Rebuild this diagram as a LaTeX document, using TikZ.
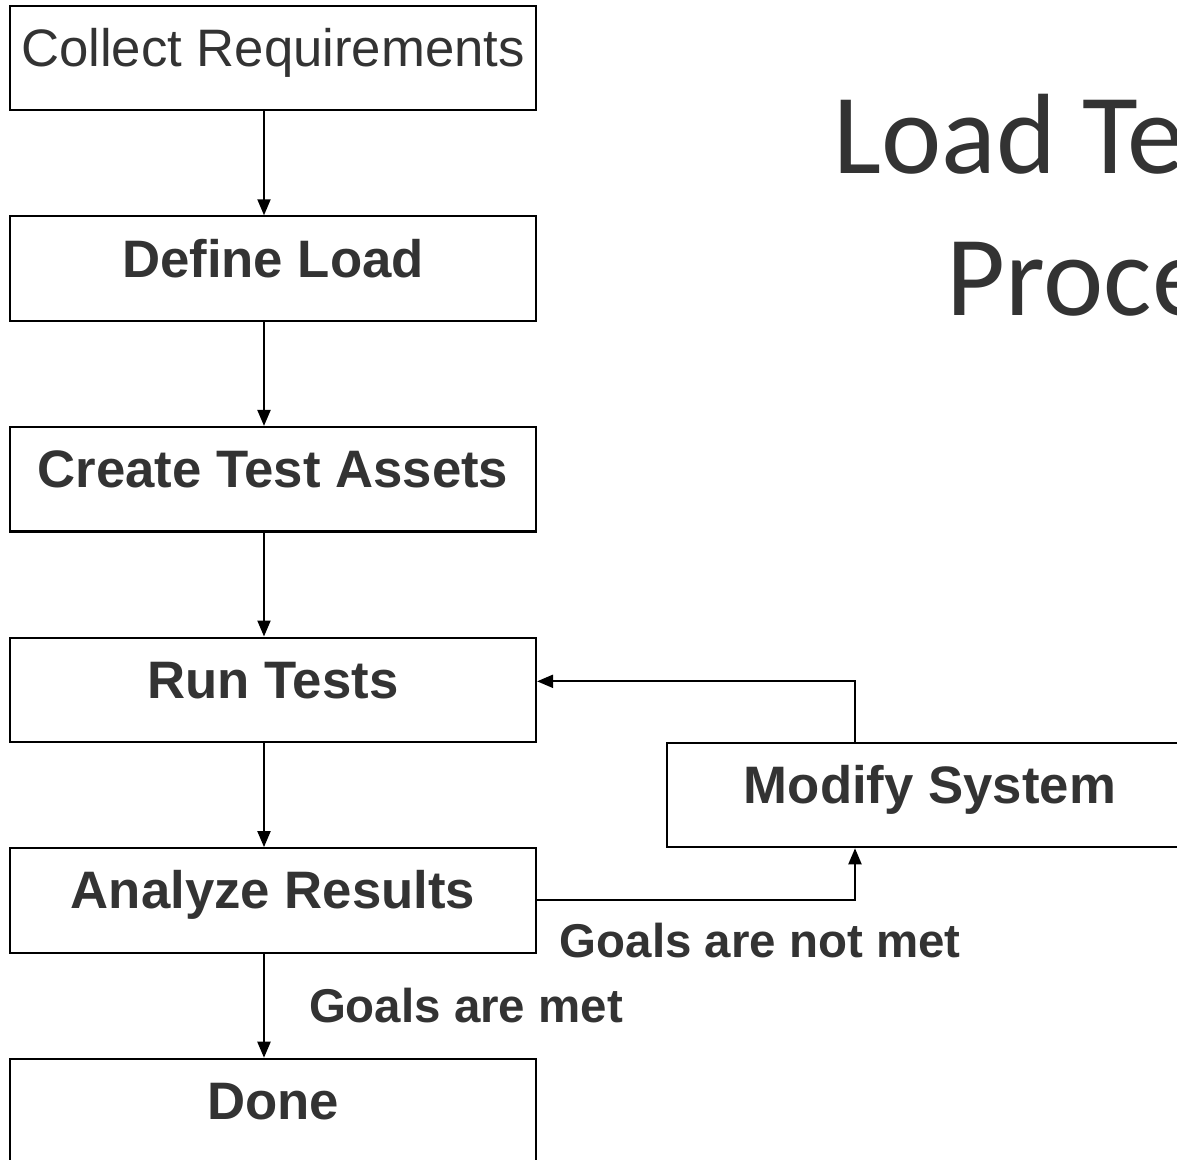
\documentclass[tikz,border=0pt]{standalone}
\usepackage{fontspec}
\setmainfont{Liberation Sans}
\newfontfamily\titlefont{Carlito}
\usetikzlibrary{arrows.meta,positioning}
\definecolor{txtGray}{HTML}{333333}
\definecolor{titleGray}{HTML}{333333}

\begin{document}
\begin{tikzpicture}[node distance=1.04cm and 0.6cm,
    every node/.style={font=\fontsize{15}{18}\selectfont\bfseries,text=txtGray},
    stepbox/.style={draw,line width=0.6pt,minimum width=5.26cm,minimum height=1.045cm,inner sep=0pt,text height=0.42cm,text depth=0.25cm},
    flow/.style={-{Triangle[length=0.16cm,width=0.13cm]},line width=0.6pt},
    note/.style={font=\fontsize{13.5}{16}\selectfont\bfseries,inner sep=0pt}]
    \clip (0,0) rectangle (11.77,11.60);
    \node[stepbox,font=\fontsize{15}{18}\selectfont] (req) at (2.73,11.02) {Collect Requirements};
    \node[stepbox,below=of req] (load) {Define Load};
    \node[stepbox,below=of load] (assets) {Create Test Assets};
    \node[stepbox,below=of assets] (run) {Run Tests};
    \node[stepbox,below=of run] (ana) {Analyze Results};
    \node[stepbox,below=of ana] (done) {Done};
    \node[stepbox] (mod) at (9.30,3.65) {Modify System};
    % title, cut off by the page edge
    \node[font=\titlefont\fontsize{32.5}{38}\selectfont,text=titleGray,inner sep=0pt,anchor=base west] (ttlA) at (8.33,9.86) {Load Te};
    \node[font=\titlefont\fontsize{32.5}{38}\selectfont,text=titleGray,inner sep=0pt,anchor=base west] (ttlB) at (9.46,8.44) {Proce};
    \draw[flow] ([xshift=-0.09cm]req.south)--([xshift=-0.09cm]load.north);
    \draw[flow] ([xshift=-0.09cm]load.south)--([xshift=-0.09cm]assets.north);
    \draw[flow] ([xshift=-0.09cm]assets.south)--([xshift=-0.09cm]run.north);
    \draw[flow] ([xshift=-0.09cm]run.south)--([xshift=-0.09cm]ana.north);
    \draw[flow] ([xshift=-0.09cm]ana.south)-- node[note,right=0.44cm] (met) {Goals are met} ([xshift=-0.09cm]done.north);
    \draw[flow] (ana.east)-|([xshift=-0.75cm]mod.south);
    \draw[flow] ([xshift=-0.75cm]mod.north)|-([yshift=0.085cm]run.east);
    \node[note,anchor=west] (notmet) at ([xshift=0.22cm,yshift=-0.40cm]ana.east) {Goals are not met};
  \end{tikzpicture}
\end{document}
